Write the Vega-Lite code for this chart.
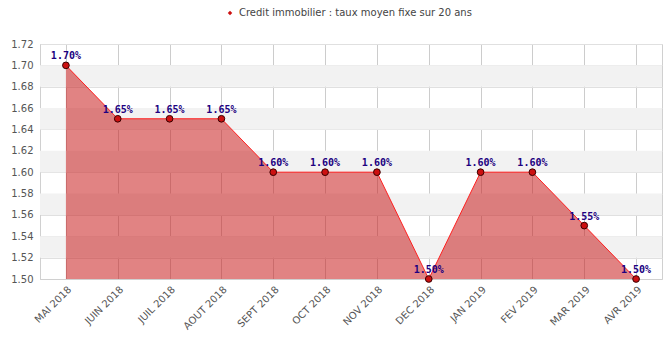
{
  "$schema": "https://vega.github.io/schema/vega-lite/v6.json",
  "autosize": "none",
  "width": 622,
  "height": 235,
  "padding": {"left": 40, "top": 44, "right": 7, "bottom": 59},
  "background": "#ffffff",
  "config": {
    "view": {"stroke": "#d0d0d0", "strokeWidth": 1},
    "font": "DejaVu Sans",
    "axisY": {"labelOverlap": false}
  },
  "datasets": {
    "rates": [
      {"mois": "MAI 2018", "taux": 1.70, "serie": "Credit immobilier : taux moyen fixe sur 20 ans"},
      {"mois": "JUIN 2018", "taux": 1.65, "serie": "Credit immobilier : taux moyen fixe sur 20 ans"},
      {"mois": "JUIL 2018", "taux": 1.65, "serie": "Credit immobilier : taux moyen fixe sur 20 ans"},
      {"mois": "AOUT 2018", "taux": 1.65, "serie": "Credit immobilier : taux moyen fixe sur 20 ans"},
      {"mois": "SEPT 2018", "taux": 1.60, "serie": "Credit immobilier : taux moyen fixe sur 20 ans"},
      {"mois": "OCT 2018", "taux": 1.60, "serie": "Credit immobilier : taux moyen fixe sur 20 ans"},
      {"mois": "NOV 2018", "taux": 1.60, "serie": "Credit immobilier : taux moyen fixe sur 20 ans"},
      {"mois": "DEC 2018", "taux": 1.50, "serie": "Credit immobilier : taux moyen fixe sur 20 ans"},
      {"mois": "JAN 2019", "taux": 1.60, "serie": "Credit immobilier : taux moyen fixe sur 20 ans"},
      {"mois": "FEV 2019", "taux": 1.60, "serie": "Credit immobilier : taux moyen fixe sur 20 ans"},
      {"mois": "MAR 2019", "taux": 1.55, "serie": "Credit immobilier : taux moyen fixe sur 20 ans"},
      {"mois": "AVR 2019", "taux": 1.50, "serie": "Credit immobilier : taux moyen fixe sur 20 ans"}
    ],
    "bands": [
      {"lo": 1.52, "hi": 1.54},
      {"lo": 1.56, "hi": 1.58},
      {"lo": 1.60, "hi": 1.62},
      {"lo": 1.64, "hi": 1.66},
      {"lo": 1.68, "hi": 1.70}
    ]
  },
  "layer": [
    {
      "data": {"name": "bands"},
      "mark": {"type": "rect", "color": "#f2f2f2"},
      "encoding": {
        "y": {
          "field": "lo", "type": "quantitative",
          "scale": {"domain": [1.5, 1.72], "nice": false, "zero": false},
          "axis": {
            "title": null, "values": [1.5, 1.52, 1.54, 1.56, 1.58, 1.6, 1.62, 1.64, 1.66, 1.68, 1.7, 1.72],
            "tickCount": 20,
            "format": ".2f", "labelFontSize": 10, "labelColor": "#555555", "ticks": false, "labelOverlap": false,
            "labelPadding": 7, "grid": true, "gridColor": "#e0e0e0", "domainColor": "#d0d0d0"
          }
        },
        "y2": {"field": "hi"}
      }
    },
    {
      "data": {"name": "rates"},
      "transform": [{"calculate": "format(datum.taux, '.2f') + '%'", "as": "etiquette"}],
      "layer": [
        {
          "mark": {"type": "area", "color": "#c81e1e", "opacity": 0.55, "interpolate": "linear"},
          "encoding": {
            "x": {
              "field": "mois", "type": "ordinal", "sort": null,
              "scale": {"type": "point", "padding": 0.5},
              "axis": {
                "title": null, "labelAngle": -45, "labelAlign": "right", "labelBaseline": "top",
                "labelFontSize": 10, "labelColor": "#555555", "labelPadding": 5,
                "ticks": false, "grid": true, "gridColor": "#cccccc", "domainColor": "#d0d0d0",
                "labelFont": "DejaVu Sans"
              }
            },
            "y": {
              "field": "taux", "type": "quantitative",
              "axis": {
                "title": null, "values": [1.5, 1.52, 1.54, 1.56, 1.58, 1.6, 1.62, 1.64, 1.66, 1.68, 1.7, 1.72],
                "tickCount": 20,
                "format": ".2f", "labelFontSize": 10, "labelColor": "#555555", "ticks": false, "labelOverlap": false,
                "labelPadding": 7, "grid": true, "gridColor": "#e0e0e0", "domainColor": "#d0d0d0"
              }
            },
            "y2": {"datum": 1.5}
          }
        },
        {
          "mark": {"type": "line", "color": "#ff2020", "strokeWidth": 1},
          "encoding": {
            "x": {"field": "mois", "type": "ordinal", "sort": null},
            "y": {"field": "taux", "type": "quantitative"}
          }
        },
        {
          "mark": {"type": "point", "filled": true, "size": 45, "stroke": "#3a0000", "strokeWidth": 1, "opacity": 1},
          "encoding": {
            "x": {"field": "mois", "type": "ordinal", "sort": null},
            "y": {"field": "taux", "type": "quantitative"},
            "color": {
              "field": "serie", "type": "nominal",
              "scale": {"range": ["#cc1010"]},
              "legend": {
                "title": null, "orient": "none", "legendX": 185, "legendY": -36,
                "symbolType": "diamond", "symbolSize": 20, "symbolStrokeWidth": 0, "labelLimit": 0,
                "labelFontSize": 10, "labelColor": "#444444", "labelFont": "DejaVu Sans"
              }
            }
          }
        },
        {
          "mark": {"type": "text", "dy": -9, "font": "DejaVu Sans Mono", "fontWeight": "bold", "fontSize": 10, "color": "#200080"},
          "encoding": {
            "x": {"field": "mois", "type": "ordinal", "sort": null},
            "y": {"field": "taux", "type": "quantitative"},
            "text": {"field": "etiquette", "type": "nominal"}
          }
        }
      ]
    }
  ]
}
